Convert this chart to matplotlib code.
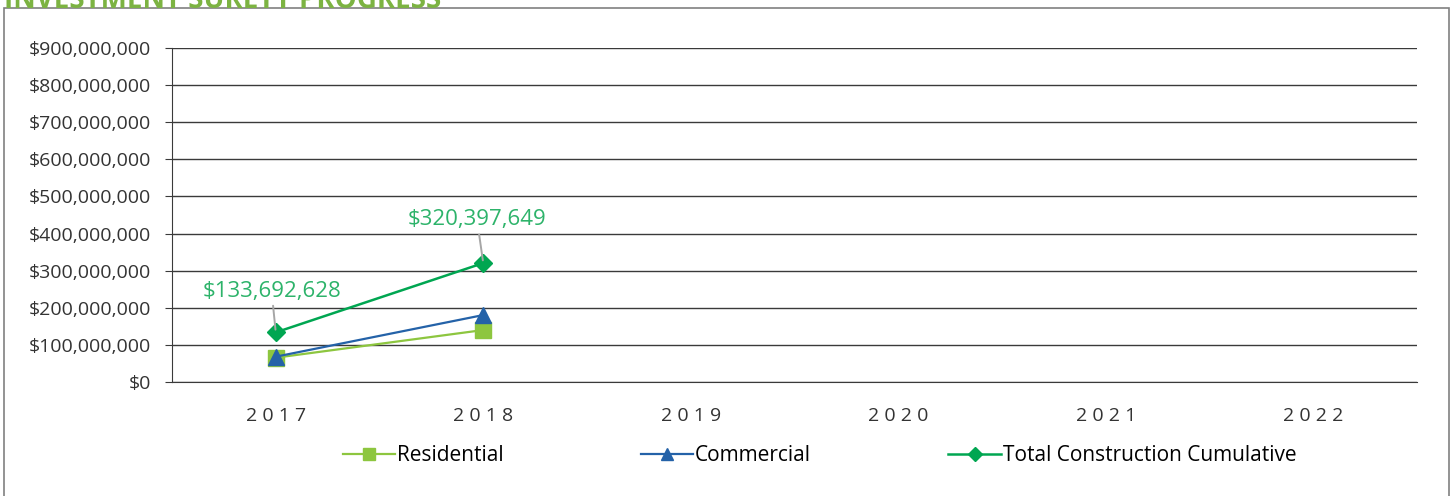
import matplotlib.pyplot as plt
from matplotlib.patches import Rectangle
from matplotlib.ticker import FuncFormatter

# data
years = ['2017', '2018', '2019', '2020', '2021', '2022']
residential = [65500000, 140000000]
commercial = [68200000, 180400000]
total = [133692628, 320397649]
total_labels = ['$133,692,628', '$320,397,649']

plt.rcParams['font.family'] = ['Open Sans', 'DejaVu Sans']

fig = plt.figure(figsize=(14.55, 4.96), dpi=100)
ax = fig.add_axes([172 / 1455, 1 - 382 / 496, (1417 - 172) / 1455, (382 - 48) / 496])

# outer frame of the chart area
fig.patches.append(Rectangle((4 / 1455, -0.05), (1449 - 4) / 1455, 1 - 8 / 496 + 0.05,
                             transform=fig.transFigure, fill=False, ec='#808080', lw=1.2))

# title, cut off at the top of the picture (as in the source image)
fig.text(4 / 1455, 1 + 14 / 496, 'INVESTMENT SURETY PROGRESS', color='#7CB342',
         fontsize=20, fontweight='bold', va='top', ha='left')

x = list(range(len(years)))
ax.plot(x[:2], residential, color='#8DC63F', lw=1.6, marker='s', ms=11, label='Residential', zorder=3)
ax.plot(x[:2], commercial, color='#2462A8', lw=1.6, marker='^', ms=12, label='Commercial', zorder=4)
ax.plot(x[:2], total, color='#00A651', lw=1.8, marker='D', ms=9, label='Total Construction Cumulative', zorder=5)

# data labels with leader lines
label_pos = [(-0.02, 245000000), (0.97, 437000000)]
for i in range(2):
    ax.annotate(total_labels[i], xy=(x[i], total[i]), xytext=label_pos[i], textcoords='data',
                ha='center', va='center', color='#2DB36A', fontsize=16,
                arrowprops=dict(arrowstyle='-', color='#A6A6A6', lw=1.4,
                                shrinkA=1, shrinkB=2), zorder=6)

ax.set_xlim(-0.5, len(years) - 0.5)
ax.set_ylim(0, 900000000)
ax.set_yticks(range(0, 900000001, 100000000))
ax.yaxis.set_major_formatter(FuncFormatter(lambda v, p: '${:,.0f}'.format(v)))
ax.set_xticks(x)
ax.set_xticklabels([' '.join(y) for y in years])
ax.grid(axis='y', color='#3a3a3a', lw=1)
ax.set_axisbelow(True)
for s in ['top', 'right']:
    ax.spines[s].set_visible(False)
ax.spines['left'].set_color('#3a3a3a')
ax.spines['bottom'].set_color('#3a3a3a')
ax.tick_params(axis='y', length=5, color='#3a3a3a', labelsize=14, labelcolor='#333333', pad=10)
ax.tick_params(axis='x', length=0, labelsize=14, labelcolor='#333333', pad=18)

ax.legend(loc='center', bbox_to_anchor=(0.52, -0.22), ncol=3, frameon=False, fontsize=15,
          columnspacing=6.6, handlelength=2.5, handletextpad=0.1, markerscale=0.75)

fig.savefig('out.png', dpi=100)
